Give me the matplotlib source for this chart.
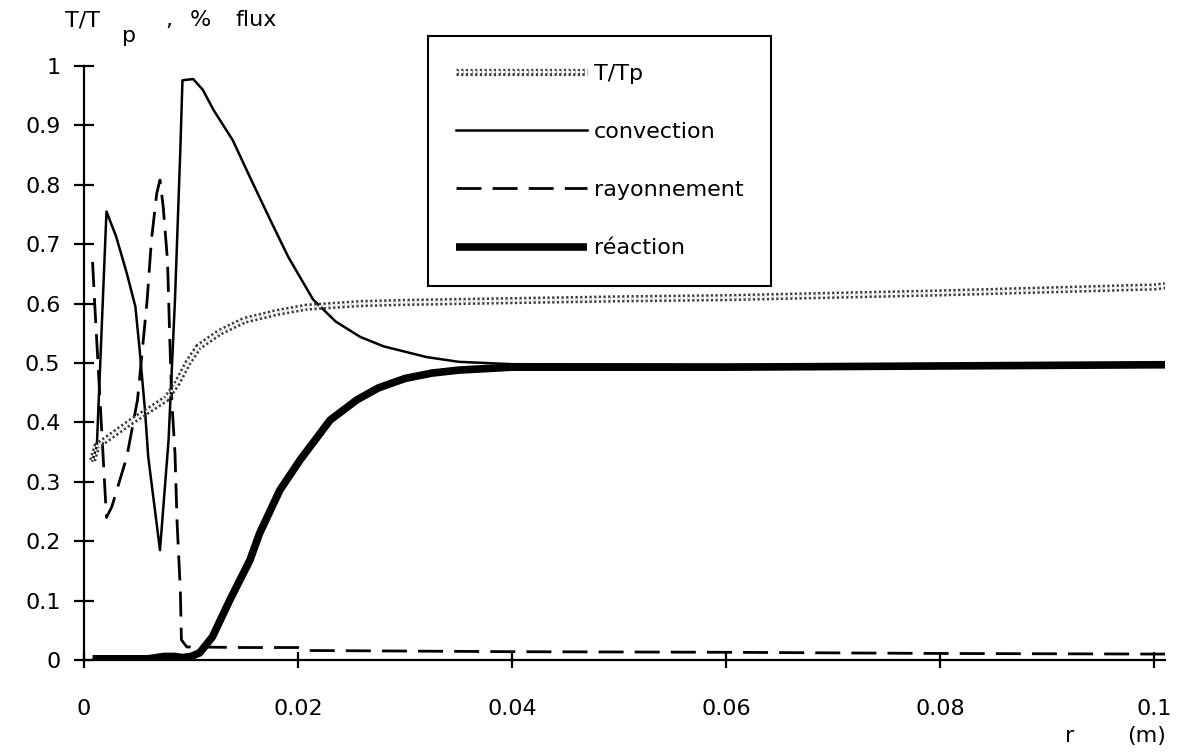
import numpy as np
import matplotlib.pyplot as plt
import matplotlib.patheffects as pe

# T/Tp (ligne perlee)
r_T = [0.0008, 0.0012, 0.0043, 0.0077, 0.0087, 0.0097, 0.0107, 0.0127, 0.0150, 0.0180,
       0.0208, 0.0258, 0.030, 0.040, 0.050, 0.060, 0.070, 0.080, 0.090, 0.100, 0.1010]
T_Tp = [0.336, 0.360, 0.400, 0.440, 0.466, 0.500, 0.527, 0.552, 0.572, 0.585,
        0.594, 0.600, 0.602, 0.605, 0.608, 0.610, 0.614, 0.618, 0.623, 0.628, 0.630]

# convection
r_conv = [0.0008, 0.0012, 0.0021, 0.0030, 0.0040, 0.0048, 0.0052, 0.0057, 0.0060, 0.0071,
          0.0079, 0.0085, 0.0090, 0.0092, 0.0102, 0.0111, 0.0121, 0.0139, 0.0155, 0.0174,
          0.0191, 0.0214, 0.0235, 0.0258, 0.028, 0.030, 0.032, 0.035, 0.040, 0.060,
          0.080, 0.100, 0.101]
conv = [0.336, 0.360, 0.755, 0.713, 0.651, 0.595, 0.522, 0.420, 0.342, 0.185,
        0.370, 0.606, 0.859, 0.976, 0.978, 0.960, 0.926, 0.875, 0.813, 0.741,
        0.678, 0.607, 0.570, 0.544, 0.528, 0.519, 0.510, 0.502, 0.498, 0.497,
        0.497, 0.497, 0.497]

# rayonnement
r_ray = [0.0008, 0.0010, 0.0021, 0.0026, 0.0040, 0.0050, 0.0059, 0.0063, 0.0068, 0.0071,
         0.0074, 0.0078, 0.0080, 0.0082, 0.0085, 0.0087, 0.0090, 0.0091, 0.0096, 0.0150,
         0.0200, 0.0210, 0.0400, 0.0600, 0.0800, 0.1000, 0.1010]
ray = [0.670, 0.600, 0.240, 0.258, 0.342, 0.438, 0.606, 0.707, 0.786, 0.808,
       0.763, 0.673, 0.550, 0.438, 0.348, 0.230, 0.118, 0.034, 0.022, 0.021,
       0.021, 0.016, 0.014, 0.013, 0.011, 0.010, 0.010]

# reaction
r_reac = [0.0008, 0.0060, 0.0075, 0.0085, 0.0092, 0.0100, 0.0108, 0.0120, 0.0136, 0.0155,
          0.0164, 0.0183, 0.0202, 0.0230, 0.0255, 0.0275, 0.0300, 0.0325, 0.0350, 0.0400,
          0.0600, 0.0800, 0.1000, 0.1010]
reac = [0.002, 0.002, 0.006, 0.006, 0.004, 0.006, 0.012, 0.039, 0.100, 0.168,
        0.213, 0.286, 0.337, 0.404, 0.438, 0.458, 0.474, 0.483, 0.488, 0.493,
        0.493, 0.495, 0.497, 0.497]

x_ticks = [0, 0.02, 0.04, 0.06, 0.08, 0.1]
x_labels = ['0', '0.02', '0.04', '0.06', '0.08', '0.1']
y_ticks = [0, 0.1, 0.2, 0.3, 0.4, 0.5, 0.6, 0.7, 0.8, 0.9, 1]
y_labels = ['0', '0.1', '0.2', '0.3', '0.4', '0.5', '0.6', '0.7', '0.8', '0.9', '1']

W, H = 1183, 753
fig = plt.figure(figsize=(W / 100, H / 100), dpi=100)
ax = fig.add_axes([84 / W, 93 / H, 1081 / W, 594 / H])

ax.plot(r_ray, ray, color='black', lw=2, dashes=(9, 4), label='rayonnement')
ax.plot(r_conv, conv, color='black', lw=1.8, label='convection')
ax.plot(r_reac, reac, color='black', lw=5.5, solid_capstyle='butt', label='réaction')
ax.plot(r_T, T_Tp, color='white', lw=1.6, linestyle=(0, (1, 1.1)), label='T/Tp',
        path_effects=[pe.Stroke(linewidth=5.2, foreground='#3a3a3a'), pe.Normal()])

ax.set_xlim(0, 0.101)
ax.set_ylim(0, 1)
ax.set_xticks(x_ticks)
ax.set_xticklabels(x_labels)
ax.set_yticks(y_ticks)
ax.set_yticklabels(y_labels)
for s in ['top', 'right']:
    ax.spines[s].set_visible(False)
for s in ['left', 'bottom']:
    ax.spines[s].set_linewidth(1.6)
ax.tick_params(axis='y', direction='inout', length=14, width=1.6, labelsize=16, pad=10)
ax.tick_params(axis='x', direction='inout', length=12, width=1.6, labelsize=16, pad=22)

h, l = ax.get_legend_handles_labels()
order = [3, 1, 0, 2]
leg = ax.legend([h[i] for i in order], [l[i] for i in order],
                loc='upper left', bbox_to_anchor=(428 / W, 1 - 36 / H),
                bbox_transform=fig.transFigure, borderaxespad=0, fontsize=16,
                handlelength=5.9, handletextpad=0.3, labelspacing=1.72,
                borderpad=1.25, fancybox=False, framealpha=1, edgecolor='black')
leg.get_frame().set_linewidth(1.5)

fig.text(65 / W, 1 - 20 / H, 'T/T', fontsize=16, va='center', ha='left')
fig.text(122 / W, 1 - 36 / H, 'p', fontsize=16, va='center', ha='left')
fig.text(165 / W, 1 - 20 / H, ',', fontsize=16, va='center', ha='left')
fig.text(190 / W, 1 - 20 / H, '%', fontsize=16, va='center', ha='left')
fig.text(236 / W, 1 - 20 / H, 'flux', fontsize=16, va='center', ha='left')
fig.text(1070 / W, 1 - 736 / H, 'r', fontsize=16, va='center', ha='center')
fig.text(1166 / W, 1 - 736 / H, '(m)', fontsize=16, va='center', ha='right')

fig.savefig('out.png', dpi=100)
